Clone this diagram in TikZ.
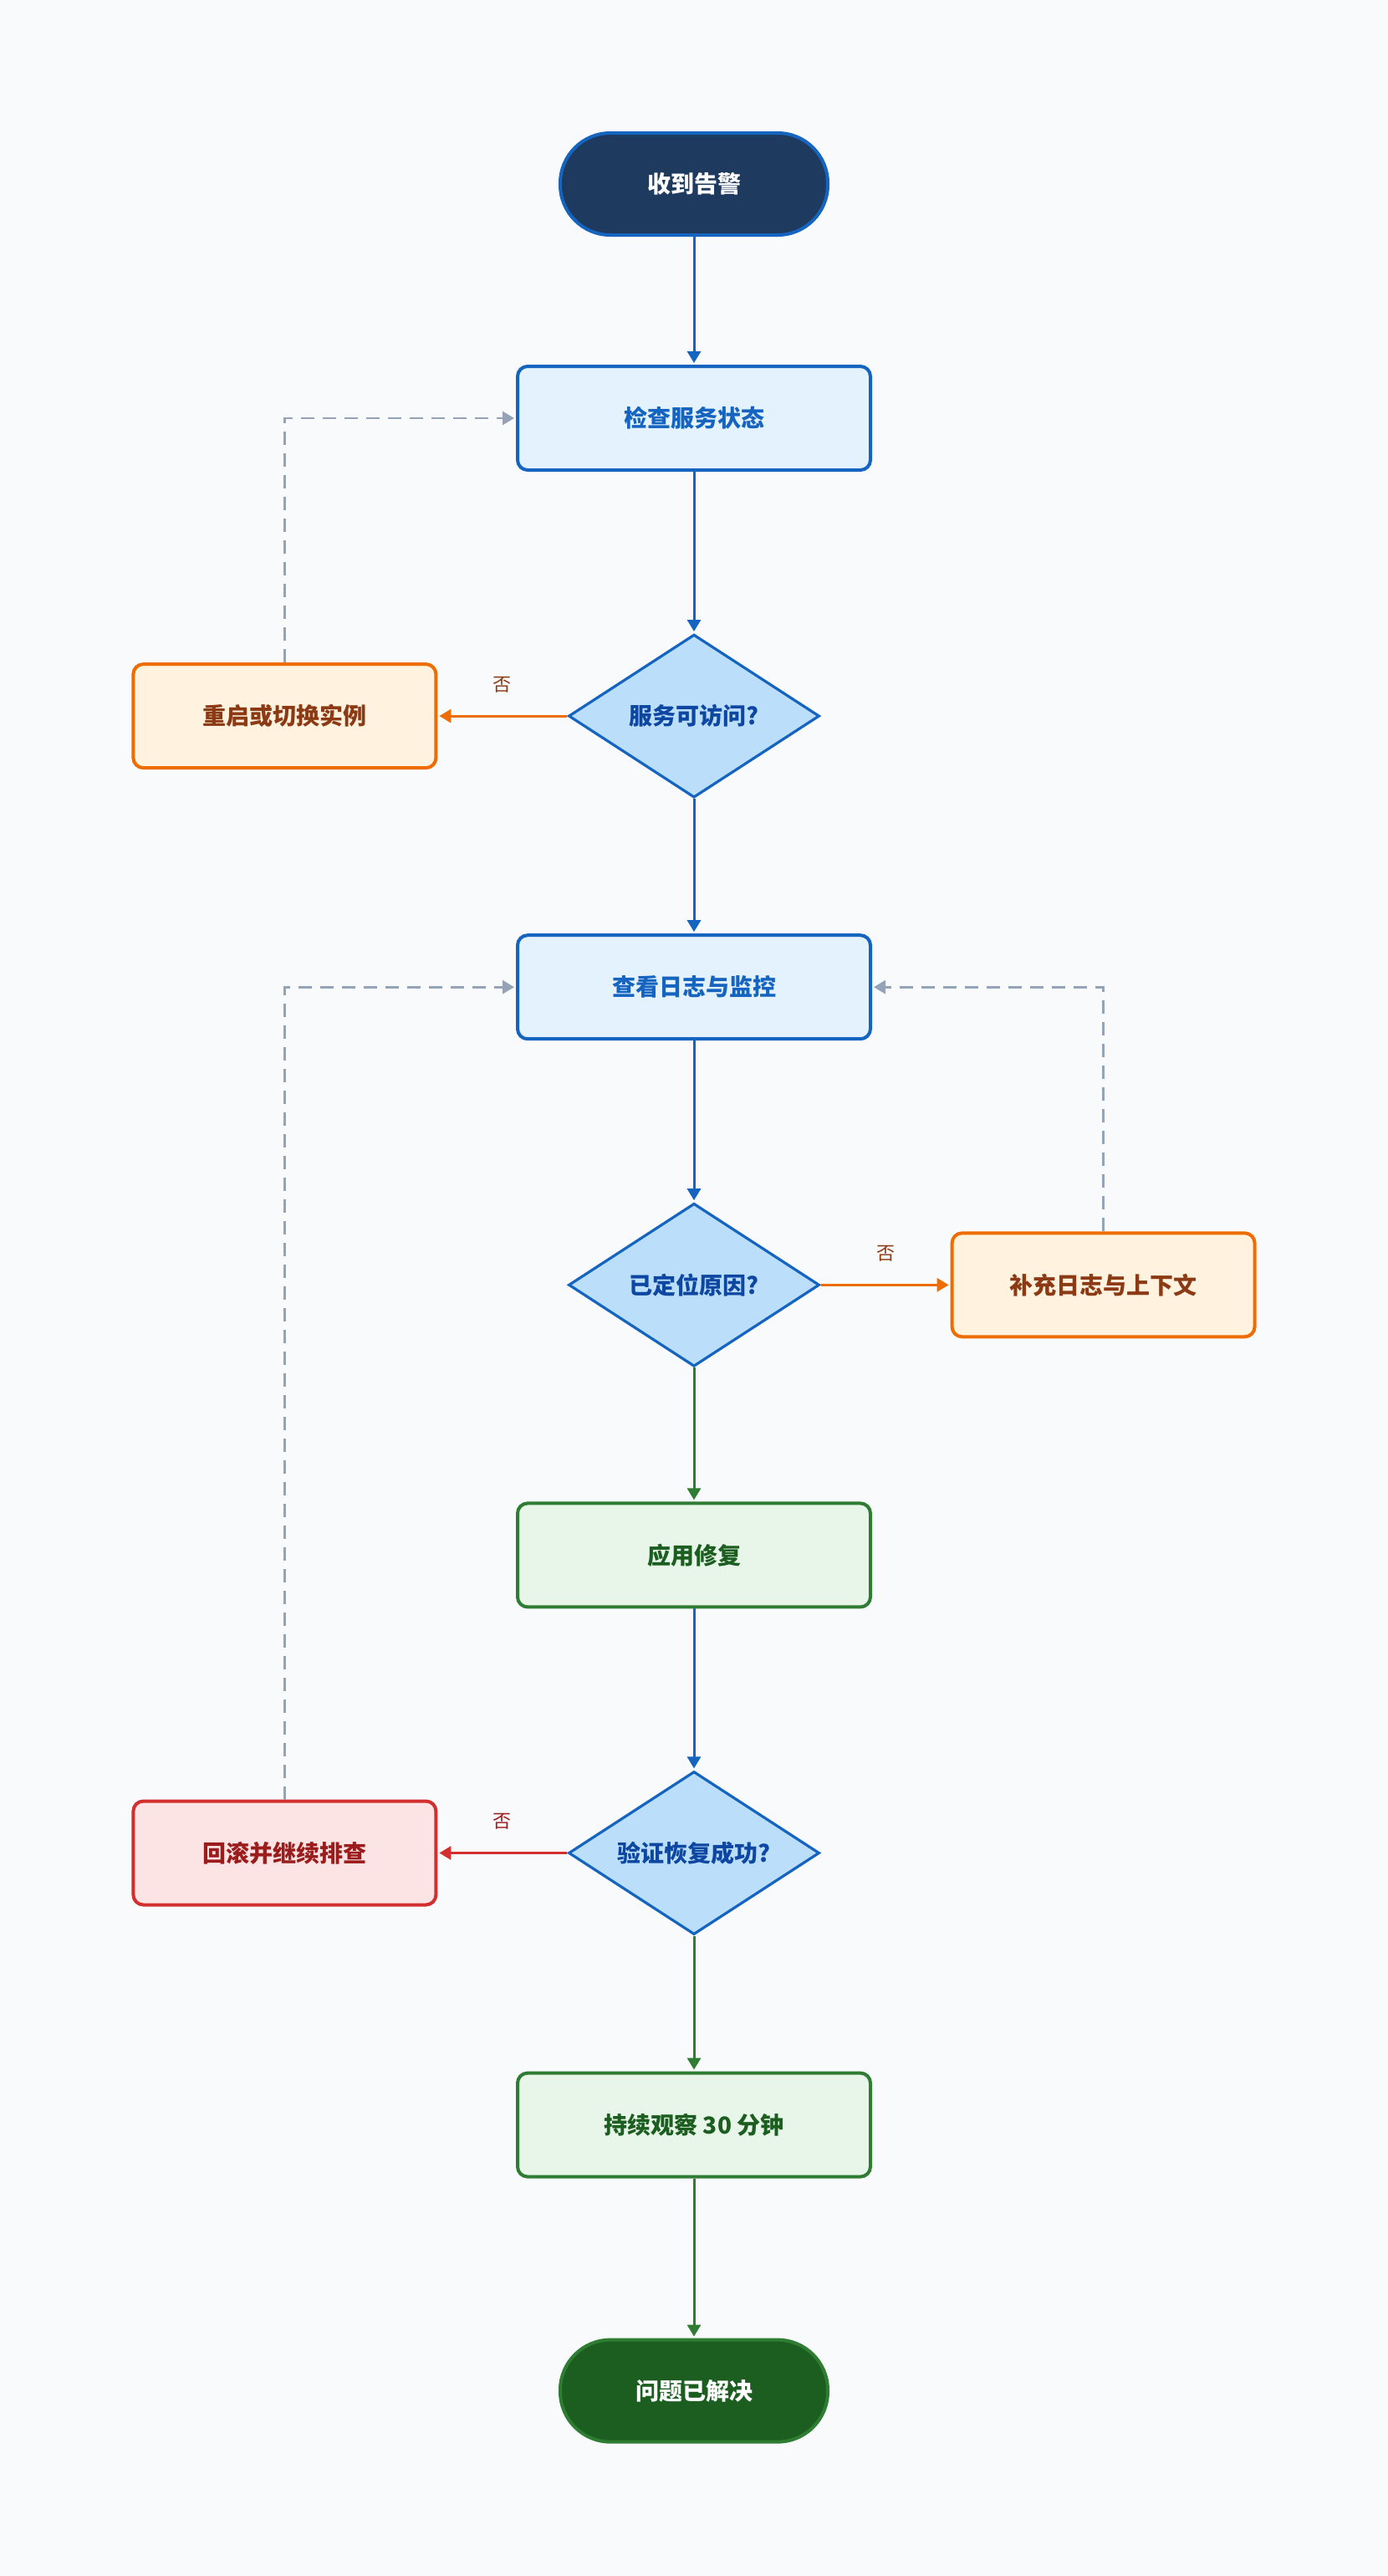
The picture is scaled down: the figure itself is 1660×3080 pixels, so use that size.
\documentclass[tikz,border=0pt]{standalone}
\usepackage{fontspec}
\setmainfont{Noto Sans CJK SC}
\usepackage{tikz}
\usetikzlibrary{positioning,shapes.geometric,arrows.meta}
\usepackage{xcolor}

\definecolor{bgpage}{HTML}{F8FAFC}
\definecolor{navy}{HTML}{1E3A5F}
\definecolor{flowblue}{HTML}{1565C0}
\definecolor{deepblue}{HTML}{0D47A1}
\definecolor{paleblue}{HTML}{E3F2FD}
\definecolor{skyblue}{HTML}{BBDEFB}
\definecolor{warnorange}{HTML}{EF6C00}
\definecolor{paleorange}{HTML}{FFF3E0}
\definecolor{brown}{HTML}{8B3A14}
\definecolor{failred}{HTML}{D32F2F}
\definecolor{palered}{HTML}{FDE4E4}
\definecolor{darkred}{HTML}{9B1C1C}
\definecolor{flowgreen}{HTML}{2E7D32}
\definecolor{palegreen}{HTML}{E8F5E9}
\definecolor{darkgreen}{HTML}{1B5E20}
\definecolor{slate}{HTML}{94A3B8}

\begin{document}
\begin{tikzpicture}[%
    x=0.5pt,y=-0.5pt,
    ->,shorten >=1pt,>={Triangle[length=7pt,width=8pt]},node distance=80pt,
    every node/.style={font=\bfseries\fontsize{14pt}{16pt}\selectfont},
    terminal/.style={%
      rectangle,rounded corners=30pt,minimum width=160pt,minimum height=61pt,line width=2pt},
    procbox/.style={%
      rectangle,rounded corners=6pt,minimum width=211pt,minimum height=62pt,
      line width=2pt,draw=flowblue,fill=paleblue,text=flowblue},
    decision/.style={%
      diamond,aspect=1.54,inner sep=0pt,minimum width=150pt,minimum height=97.5pt,
      line width=1.6pt,draw=flowblue,fill=skyblue,text=deepblue},
    warnbox/.style={%
      rectangle,rounded corners=6pt,minimum width=181pt,minimum height=62pt,
      line width=2pt,draw=warnorange,fill=paleorange,text=brown},
    failbox/.style={%
      rectangle,rounded corners=6pt,minimum width=181pt,minimum height=62pt,
      line width=2pt,draw=failred,fill=palered,text=darkred},
    fixbox/.style={%
      rectangle,rounded corners=6pt,minimum width=211pt,minimum height=62pt,
      line width=2pt,draw=flowgreen,fill=palegreen,text=darkgreen},
    noedge/.style={font=\fontsize{11pt}{13pt}\selectfont,text=brown,above=10pt},
    backline/.style={draw=slate,line width=1.4pt,dash pattern=on 8pt off 5pt}
  ]
    \fill[bgpage,-] (0,0) rectangle (1660,3080);

    \node[terminal, fill=navy, draw=flowblue, text=white] (alert) at (830,220) {收到告警};
    \node[procbox] (check) [node distance=76.5pt, below=of alert]   {检查服务状态};
    \node[decision] (reach) [node distance=96.5pt, below=of check]  {服务可访问?};
    \node[warnbox] (restart) [node distance=77.5pt, left=of reach]  {重启或切换实例};
    \node[procbox] (logs) [node distance=80.5pt, below=of reach]    {查看日志与监控};
    \node[decision] (cause) [node distance=96.5pt, below=of logs]   {已定位原因?};
    \node[warnbox] (context) [node distance=77.5pt, right=of cause] {补充日志与上下文};
    \node[fixbox] (fix) [node distance=80pt, below=of cause]        {应用修复};
    \node[decision] (verify) [node distance=96.5pt, below=of fix]   {验证恢复成功?};
    \node[failbox] (rollback) [node distance=77.5pt, left=of verify] {回滚并继续排查};
    \node[fixbox] (watch) [node distance=81pt, below=of verify]     {持续观察 30 分钟};
    \node[terminal, fill=darkgreen, draw=flowgreen, text=white] (solved)
      [node distance=95.5pt, below=of watch] {问题已解决};

    \path[line width=1.5pt]
          (alert)  edge [flowblue]                       (check)
          (check)  edge [flowblue]                       (reach)
          (reach)  edge [warnorange] node [noedge] {否}  (restart)
          (reach)  edge [flowblue]                       (logs)
          (logs)   edge [flowblue]                       (cause)
          (cause)  edge [warnorange] node [noedge] {否}  (context)
          (cause)  edge [flowgreen]                      (fix)
          (fix)    edge [flowblue]                       (verify)
          (verify) edge [failred] node [noedge, text=darkred] {否} (rollback)
          (verify) edge [flowgreen]                      (watch)
          (watch)  edge [flowgreen]                      (solved)
          ;

    % dashed returns
    \draw[backline] (restart.north) |- (check.west);
    \draw[backline] (context.north) |- (logs.east);
    \draw[backline] (rollback.north) |- (logs.west);
  \end{tikzpicture}
\end{document}
